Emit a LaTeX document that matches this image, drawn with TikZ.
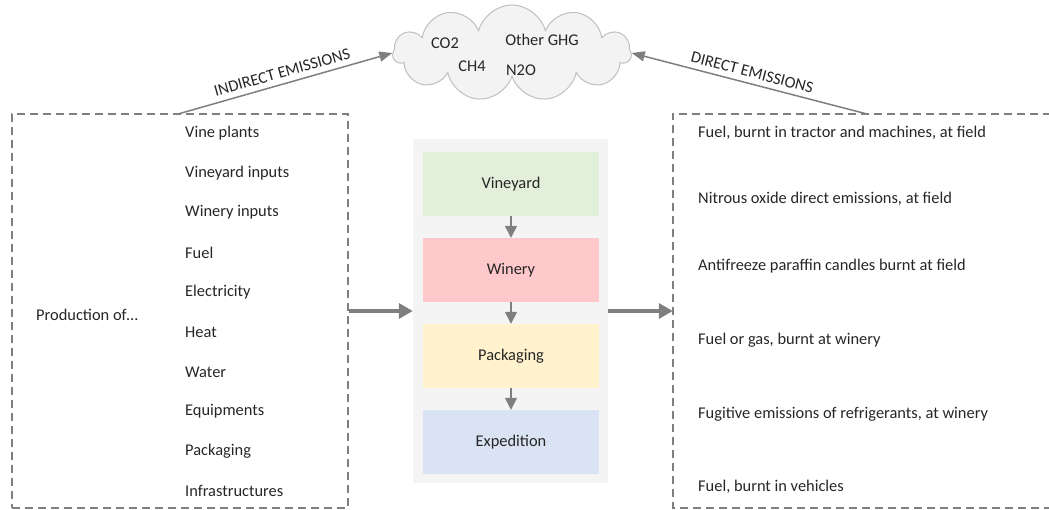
\documentclass[tikz,border=0pt]{standalone}
\usepackage{fontspec}
\setmainfont{Carlito}
\usetikzlibrary{arrows.meta,shapes.symbols,positioning}

\definecolor{linegray}{HTML}{7F7F7F}
\definecolor{textgray}{HTML}{262626}
\definecolor{cloudfill}{HTML}{F3F3F3}
\definecolor{cloudline}{HTML}{BFBFBF}
\definecolor{procbg}{HTML}{F4F4F4}
\definecolor{vinecol}{HTML}{E2EFDA}
\definecolor{winecol}{HTML}{FFC9CB}
\definecolor{packcol}{HTML}{FFF2CC}
\definecolor{expcol}{HTML}{DAE3F3}

\begin{document}
\begin{tikzpicture}[x=1pt,y=-1pt,node distance=86pt,font=\fontsize{16.4}{19}\selectfont,text=textgray]
		\tikzstyle{dashline}=[draw=linegray, line width=1.5pt, dash pattern=on 8pt off 5pt]
		\tikzstyle{dashbox}=[rectangle, dashline, inner sep=0pt]
		\tikzstyle{stage}=[rectangle, minimum width=176pt, minimum height=64pt, inner sep=0pt]
		\tikzstyle{item}=[anchor=west, inner sep=0pt]
		\tikzstyle{emission}=[draw=linegray, line width=1.5pt, >={Triangle[length=13pt,width=10pt]}]
		\tikzstyle{flow}=[draw=linegray, line width=1.5pt, -{Triangle[length=12pt,width=12pt]}]
		\tikzstyle{bigflow}=[draw=linegray, line width=4pt, -{Triangle[length=14pt,width=15pt]}]

		\useasboundingbox (0,0) rectangle (1049,510);

		% greenhouse gases
		\node [cloud, cloud puffs=11, aspect=2.4, draw=cloudline, fill=cloudfill, line width=1pt,
			minimum width=238pt, minimum height=96pt] (ghg) at (512,53) {};
		\node (co2) at (445,43) {CO2};
		\node (other) at (542,40) {Other GHG};
		\node (ch4) at (472,66) {CH4};
		\node (n2o) at (521,70) {N2O};

		% production of inputs
		\node [dashbox, minimum width=336pt, minimum height=394pt] (lbox) at (180,311) {};
		\node [item] (prod) at (36,315) {Production of…};
		\foreach \txt [count=\i] in {Vine plants, Vineyard inputs, Winery inputs, Fuel, Electricity,
			Heat, Water, Equipments, Packaging, Infrastructures}
			\node [item] (in\i) at (185,93.2+39.8*\i) {\txt};

		% direct emissions
		\node [rectangle, minimum width=378pt, minimum height=394pt] (rbox) at (862,311) {};
		\draw [dashline] (rbox.north east) -- (rbox.north west) -- (rbox.south west) -- (rbox.south east);
		\foreach \ypos/\txt [count=\i] in {133/{Fuel, burnt in tractor and machines, at field},
			199/{Nitrous oxide direct emissions, at field},
			266/{Antifreeze paraffin candles burnt at field},
			340/{Fuel or gas, burnt at winery},
			414/{Fugitive emissions of refrigerants, at winery},
			487/{Fuel, burnt in vehicles}}
			\node [item] (out\i) at (698,\ypos) {\txt};

		% process
		\node [rectangle, fill=procbg, minimum width=195pt, minimum height=343pt] (proc) at (510.5,311) {};
		\node [stage, fill=vinecol] (vine) at (511,184) {Vineyard};
		\node [stage, fill=winecol] (winery) [below of=vine] {Winery};
		\node [stage, fill=packcol] (pack) [below of=winery] {Packaging};
		\node [stage, fill=expcol] (exped) [below of=pack] {Expedition};
		\draw [flow] (vine) -- (winery);
		\draw [flow] (winery) -- (pack);
		\draw [flow] (pack) -- (exped);

		\draw [bigflow] (lbox.east) -- (proc.west);
		\draw [bigflow] (proc.east) -- (rbox.west);

		% emissions
		\coordinate (indsrc) at (178,114);
		\coordinate (dirsrc) at (867,114);
		\draw [emission,->] (indsrc) -- (ghg.west)
			node [midway, above=2pt, sloped] {INDIRECT EMISSIONS};
		\draw [emission,<-] (ghg.east) -- (dirsrc)
			node [midway, above=2pt, sloped] {DIRECT EMISSIONS};
	\end{tikzpicture}
\end{document}
